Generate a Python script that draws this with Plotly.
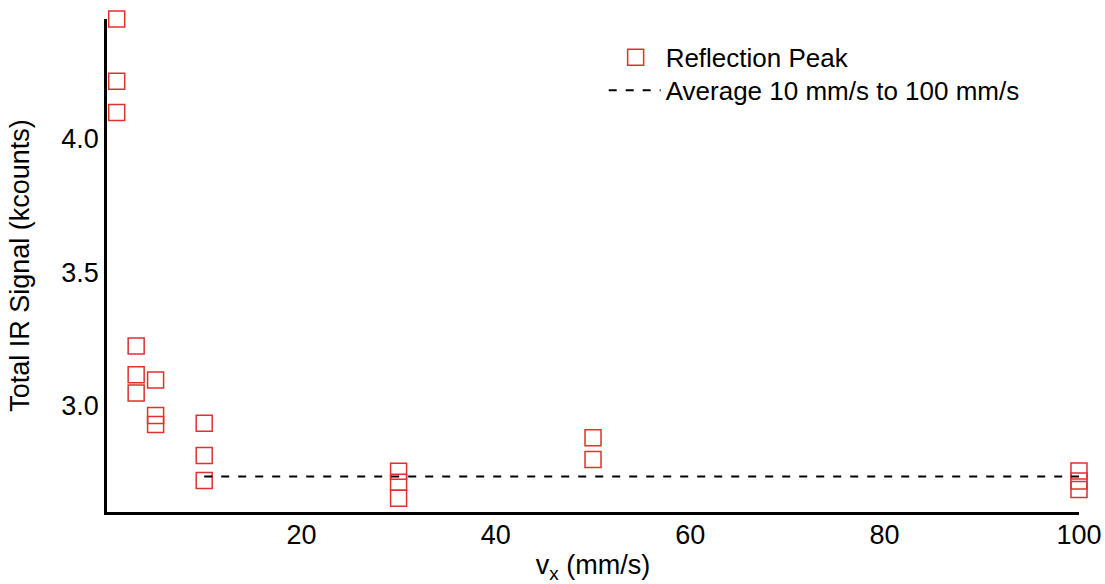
import plotly.graph_objects as go

# Data
speed_x = [1, 1, 1, 3, 3, 3, 5, 5, 5, 10, 10, 10, 30, 30, 30, 50, 50, 100, 100, 100]
signal_y = [4.446, 4.213, 4.096,
            3.224, 3.116, 3.048,
            3.096, 2.964, 2.930,
            2.935, 2.814, 2.721,
            2.755, 2.714, 2.654,
            2.881, 2.799,
            2.756, 2.719, 2.687]
avg_x = [10, 100]
avg_y = [2.736, 2.736]
x_ticks = [20, 40, 60, 80, 100]
y_ticks = [3.0, 3.5, 4.0]

RED = "#e0312f"
FONT = "Liberation Sans, Arial, sans-serif"

fig = go.Figure()
fig.add_trace(go.Scatter(
    x=speed_x, y=signal_y, mode="markers", name="Reflection Peak",
    marker=dict(symbol="square-open", size=16, color=RED, line=dict(width=1.5, color=RED)),
    cliponaxis=False, legend="legend",
))
fig.add_trace(go.Scatter(
    x=avg_x, y=avg_y, mode="lines", name="Average 10 mm/s to 100 mm/s",
    line=dict(color="black", width=2, dash="8px,9px"),
    cliponaxis=False, legend="legend2",
))

fig.update_layout(
    width=1105, height=584,
    margin=dict(l=107, r=26, t=19, b=72),
    paper_bgcolor="white", plot_bgcolor="white",
    font=dict(family=FONT, size=27, color="black"),
    showlegend=True,
    legend=dict(x=0.513, y=0.970, xanchor="left", yanchor="top",
                font=dict(family=FONT, size=26, color="black"), bgcolor="rgba(0,0,0,0)",
                itemwidth=50),
    legend2=dict(x=0.511, y=0.903, xanchor="left", yanchor="top",
                 font=dict(family=FONT, size=26, color="black"), bgcolor="rgba(0,0,0,0)",
                 itemwidth=52),
    xaxis=dict(range=[0, 100], tickvals=x_ticks, showgrid=False, zeroline=False,
               showline=True, linecolor="black", linewidth=2.5, ticks="",
               ticklabelstandoff=-3, automargin=False,
               tickfont=dict(family=FONT, size=27, color="black"),
               title=dict(text="v<sub>x</sub> (mm/s)", standoff=13,
                          font=dict(family=FONT, size=27, color="black"))),
    yaxis=dict(range=[2.603, 4.446], tickvals=y_ticks, tickformat=".1f", showgrid=False,
               zeroline=False, showline=True, linecolor="black", linewidth=2.5, ticks="",
               ticklabelstandoff=0, automargin=False,
               tickfont=dict(family=FONT, size=27, color="black"),
               title=dict(text="Total IR Signal (kcounts)", standoff=24,
                          font=dict(family=FONT, size=27, color="black"))),
)

fig.write_html("out.html")
